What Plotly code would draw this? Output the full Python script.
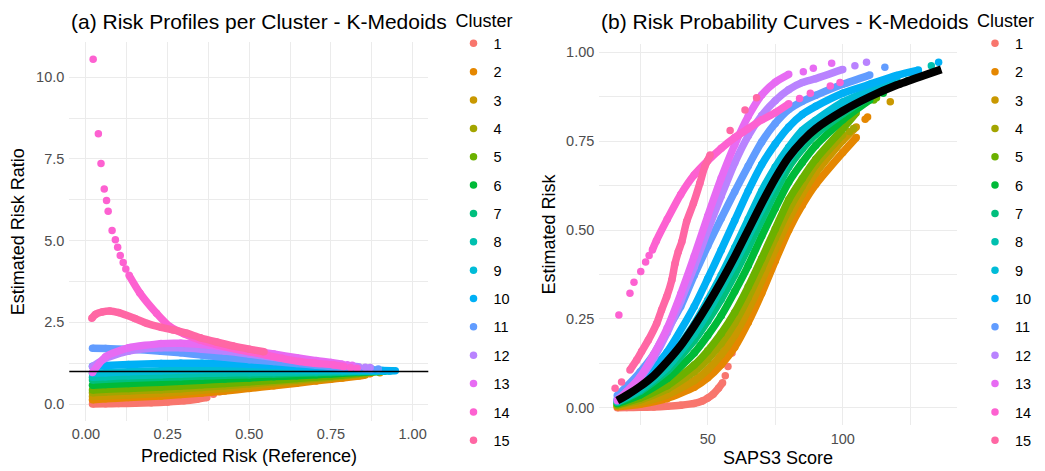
import plotly.graph_objects as go

# ggplot-style hue palette for the 15 clusters
colors = ["#F8766D", "#E58700", "#C99800", "#A3A500", "#6BB100", "#00BA38", "#00BF7D",
          "#00C0AF", "#00BCD8", "#00B0F6", "#619CFF", "#B983FF", "#E76BF3", "#FD61D1", "#FF67A4"]
clusters = [str(i) for i in range(1, 16)]

# ---------------- Panel (b): risk vs SAPS3 ----------------
ref_saps = [16.5, 20, 25, 30, 35, 40, 45, 50, 55, 60, 65, 70, 75, 80, 85, 90, 100, 110, 120, 130, 136.5]
ref_risk = [0.02, 0.035, 0.06, 0.09, 0.13, 0.175, 0.23, 0.29, 0.355, 0.425, 0.5, 0.575, 0.645, 0.705,
            0.75, 0.785, 0.835, 0.875, 0.908, 0.935, 0.952]

b_saps = [
    [16.5, 20, 25, 30, 35, 40, 45, 48, 50, 52, 54, 55.5],
    [16.5, 25, 35, 45, 50, 55, 60, 65, 70, 75, 80, 85, 90, 100, 105],
    [16.5, 25, 35, 45, 50, 55, 60, 65, 70, 75, 80, 85, 90, 100, 105],
    [16.5, 25, 35, 45, 50, 55, 60, 65, 70, 75, 80, 85, 90, 100],
    [16.5, 25, 35, 45, 50, 55, 60, 65, 70, 75, 80, 85, 90, 100, 105],
    [16.5, 25, 35, 45, 50, 55, 60, 65, 70, 75, 80, 85, 90, 100, 110],
    [16.5, 25, 35, 45, 50, 55, 60, 65, 70, 75, 80, 85, 90, 100, 110, 118],
    [16.5, 25, 35, 45, 50, 55, 60, 65, 70, 75, 80, 85, 90, 100, 110, 120],
    [16.5, 25, 35, 45, 50, 55, 60, 65, 70, 75, 80, 85, 90, 100, 110, 120],
    [16.5, 25, 35, 45, 50, 55, 60, 65, 70, 75, 80, 85, 90, 100, 110, 120, 128],
    [16.5, 20, 25, 30, 35, 40, 45, 50, 55, 60, 65, 70, 75, 80, 85, 90, 100, 110],
    [16.5, 20, 25, 30, 35, 40, 45, 50, 55, 60, 65, 70, 75, 80, 85, 90, 100],
    [16.5, 20, 25, 30, 35, 40, 45, 50, 55, 60, 65, 70, 75, 80],
    [29.5, 31, 35, 40, 45, 50, 55, 60, 65, 70, 75, 80],
    [21.2, 23.7, 25.5, 28, 31.1, 32.9, 34.8, 36.7, 37.9, 39.1, 40.4, 42.2, 44.7, 47.1, 48.9, 50.9],
]
b_risk = [
    [0.0, 0.0005, 0.001, 0.002, 0.004, 0.007, 0.012, 0.019, 0.027, 0.038, 0.055, 0.07],
    [0.0026, 0.0096, 0.026, 0.0575, 0.084, 0.121, 0.17, 0.24, 0.322, 0.413, 0.5, 0.57, 0.628, 0.718, 0.76],
    [0.0046, 0.015, 0.036, 0.076, 0.107, 0.149, 0.204, 0.275, 0.357, 0.445, 0.529, 0.6, 0.66, 0.752, 0.79],
    [0.007, 0.022, 0.052, 0.101, 0.136, 0.181, 0.238, 0.31, 0.391, 0.477, 0.557, 0.623, 0.683, 0.768],
    [0.0086, 0.027, 0.062, 0.12, 0.16, 0.209, 0.268, 0.34, 0.42, 0.503, 0.585, 0.645, 0.699, 0.785, 0.83],
    [0.0116, 0.036, 0.082, 0.154, 0.203, 0.259, 0.327, 0.4, 0.483, 0.561, 0.635, 0.69, 0.738, 0.81, 0.866],
    [0.0148, 0.046, 0.103, 0.189, 0.244, 0.305, 0.374, 0.45, 0.529, 0.606, 0.677, 0.728, 0.769, 0.827, 0.875, 0.905],
    [0.0164, 0.05, 0.113, 0.207, 0.267, 0.334, 0.404, 0.48, 0.558, 0.632, 0.698, 0.746, 0.785, 0.838, 0.88, 0.915],
    [0.0188, 0.058, 0.129, 0.235, 0.302, 0.373, 0.45, 0.53, 0.61, 0.677, 0.733, 0.78, 0.809, 0.86, 0.893, 0.926],
    [0.023, 0.071, 0.157, 0.285, 0.363, 0.444, 0.527, 0.61, 0.684, 0.742, 0.79, 0.825, 0.848, 0.885, 0.91, 0.935, 0.95],
    [0.034, 0.06, 0.101, 0.15, 0.218, 0.285, 0.373, 0.455, 0.533, 0.608, 0.68, 0.748, 0.8, 0.839, 0.862, 0.879, 0.91, 0.936],
    [0.023, 0.045, 0.084, 0.14, 0.211, 0.3, 0.396, 0.499, 0.596, 0.689, 0.765, 0.822, 0.864, 0.895, 0.915, 0.926, 0.952],
    [0.0194, 0.045, 0.087, 0.15, 0.224, 0.32, 0.426, 0.539, 0.646, 0.74, 0.82, 0.88, 0.916, 0.938],
    [0.444, 0.47, 0.53, 0.6, 0.655, 0.695, 0.73, 0.76, 0.785, 0.81, 0.83, 0.855],
    [0.106, 0.134, 0.158, 0.19, 0.237, 0.275, 0.312, 0.359, 0.406, 0.439, 0.467, 0.524, 0.575, 0.632, 0.678, 0.711],
]
# isolated patients at the sparse ends of each cluster
b_pt_saps = [
    [56.5, 57.5, 59, 61], [108.3, 109.2], [117.6], [102.5, 104], [111.5, 112.5], [115], [124],
    [126, 132.8], [128], [135.5], [115.6], [104.5, 108.8], [85.4, 89.1, 95.9],
    [17.1, 21.2, 22.7, 25.2, 27, 28.3, 84, 88, 95.4, 99], [15.7, 18.1, 58.3, 63.8, 68.1],
]
b_pt_risk = [
    [0.09, 0.116, 0.154, 0.21], [0.812, 0.818], [0.861], [0.777, 0.786], [0.866, 0.872], [0.885], [0.92],
    [0.94, 0.962], [0.945], [0.972], [0.958], [0.962, 0.972], [0.945, 0.955, 0.969],
    [0.261, 0.322, 0.353, 0.383, 0.41, 0.428, 0.87, 0.885, 0.905, 0.915], [0.055, 0.072, 0.78, 0.838, 0.872],
]

# ---------------- Panel (a): risk ratio vs reference risk ----------------
a_ref = [
    [0.02, 0.06, 0.1, 0.15, 0.2, 0.25, 0.3, 0.34, 0.37],
    [0.02, 0.06, 0.13, 0.23, 0.29, 0.355, 0.425, 0.5, 0.575, 0.645, 0.705, 0.75, 0.785, 0.835, 0.855],
    [0.02, 0.06, 0.13, 0.23, 0.29, 0.355, 0.425, 0.5, 0.575, 0.645, 0.705, 0.75, 0.785, 0.835, 0.857],
    [0.02, 0.06, 0.13, 0.23, 0.29, 0.355, 0.425, 0.5, 0.575, 0.645, 0.705, 0.75, 0.785, 0.835],
    [0.02, 0.06, 0.13, 0.23, 0.29, 0.355, 0.425, 0.5, 0.575, 0.645, 0.705, 0.75, 0.785, 0.835, 0.857],
    [0.02, 0.06, 0.13, 0.23, 0.29, 0.355, 0.425, 0.5, 0.575, 0.645, 0.705, 0.75, 0.785, 0.835, 0.875],
    [0.02, 0.06, 0.13, 0.23, 0.29, 0.355, 0.425, 0.5, 0.575, 0.645, 0.705, 0.75, 0.785, 0.835, 0.875, 0.9],
    [0.02, 0.06, 0.13, 0.23, 0.29, 0.355, 0.425, 0.5, 0.575, 0.645, 0.705, 0.75, 0.785, 0.835, 0.875, 0.908],
    [0.02, 0.06, 0.13, 0.23, 0.29, 0.355, 0.425, 0.5, 0.575, 0.645, 0.705, 0.75, 0.785, 0.835, 0.875, 0.908],
    [0.02, 0.06, 0.13, 0.23, 0.29, 0.355, 0.425, 0.5, 0.575, 0.645, 0.705, 0.75, 0.785, 0.835, 0.875, 0.908, 0.935],
    [0.02, 0.06, 0.13, 0.23, 0.29, 0.355, 0.425, 0.5, 0.575, 0.645, 0.705, 0.75, 0.785, 0.835, 0.875],
    [0.02, 0.06, 0.13, 0.23, 0.29, 0.355, 0.425, 0.5, 0.575, 0.645, 0.705, 0.75, 0.785, 0.835],
    [0.02, 0.06, 0.13, 0.23, 0.29, 0.355, 0.425, 0.5, 0.575, 0.645, 0.705, 0.75, 0.785],
    [0.132, 0.165, 0.216, 0.257, 0.3, 0.349, 0.4, 0.451, 0.5, 0.553, 0.6, 0.655, 0.7, 0.757, 0.79],
    [0.018, 0.03, 0.05, 0.073, 0.1, 0.15, 0.186, 0.23, 0.267, 0.308, 0.35, 0.4, 0.45, 0.5, 0.545],
]
a_ratio = [
    [0.0, 0.01, 0.015, 0.025, 0.04, 0.065, 0.1, 0.15, 0.2],
    [0.13, 0.16, 0.2, 0.25, 0.29, 0.34, 0.4, 0.48, 0.56, 0.64, 0.71, 0.76, 0.8, 0.86, 0.89],
    [0.23, 0.25, 0.28, 0.33, 0.37, 0.42, 0.48, 0.55, 0.62, 0.69, 0.75, 0.8, 0.84, 0.9, 0.92],
    [0.35, 0.37, 0.4, 0.44, 0.47, 0.51, 0.56, 0.62, 0.68, 0.74, 0.79, 0.83, 0.87, 0.92],
    [0.43, 0.45, 0.48, 0.52, 0.55, 0.59, 0.63, 0.68, 0.73, 0.78, 0.83, 0.86, 0.89, 0.94, 0.97],
    [0.58, 0.6, 0.63, 0.67, 0.7, 0.73, 0.77, 0.8, 0.84, 0.87, 0.9, 0.92, 0.94, 0.97, 0.99],
    [0.74, 0.76, 0.79, 0.82, 0.84, 0.86, 0.88, 0.9, 0.92, 0.94, 0.96, 0.97, 0.98, 0.99, 1.0, 1.0],
    [0.82, 0.84, 0.87, 0.9, 0.92, 0.94, 0.95, 0.96, 0.97, 0.98, 0.99, 0.995, 1.0, 1.003, 1.006, 1.008],
    [0.94, 0.96, 0.99, 1.02, 1.04, 1.05, 1.06, 1.06, 1.06, 1.05, 1.04, 1.04, 1.03, 1.03, 1.02, 1.02],
    [1.16, 1.18, 1.21, 1.24, 1.25, 1.25, 1.24, 1.22, 1.19, 1.15, 1.12, 1.1, 1.08, 1.06, 1.04, 1.03, 1.02],
    [1.71, 1.7, 1.68, 1.62, 1.57, 1.5, 1.43, 1.36, 1.3, 1.24, 1.19, 1.15, 1.12, 1.09, 1.07],
    [1.15, 1.4, 1.62, 1.72, 1.72, 1.68, 1.62, 1.53, 1.43, 1.34, 1.27, 1.22, 1.18, 1.14],
    [0.97, 1.45, 1.72, 1.85, 1.86, 1.82, 1.74, 1.64, 1.53, 1.42, 1.33, 1.27, 1.22],
    [3.94, 3.4, 2.78, 2.37, 2.15, 1.96, 1.82, 1.7, 1.6, 1.5, 1.4, 1.3, 1.25, 1.2, 1.15],
    [2.63, 2.75, 2.82, 2.85, 2.8, 2.62, 2.47, 2.35, 2.27, 2.17, 2.03, 1.9, 1.78, 1.68, 1.6],
]
a_pt_ref = [
    [0.39, 0.41, 0.44], [0.868, 0.871], [0.9], [0.847, 0.855], [0.88, 0.884], [0.892], [0.915],
    [0.926, 0.94], [0.93], [0.947], [0.895], [0.855, 0.87], [0.8, 0.815],
    [0.022, 0.038, 0.046, 0.056, 0.063, 0.068, 0.080, 0.090, 0.097, 0.105, 0.114, 0.122, 0.81, 0.83], [],
]
a_pt_ratio = [
    [0.3, 0.38, 0.48], [0.928, 0.936], [0.957], [0.917, 0.92], [0.985, 0.986], [0.992], [1.005],
    [1.015, 1.02], [1.016], [1.02], [1.07], [1.125, 1.118], [1.2, 1.19],
    [10.55, 8.27, 7.36, 6.58, 6.23, 5.9, 5.31, 5.03, 4.8, 4.55, 4.33, 4.13, 1.12, 1.1], [],
]

W, H = 1045, 471
MS = 7.5   # point diameter
LW = 7.5   # band width for densely packed points
FONT = "Liberation Sans, Arial, Helvetica, sans-serif"

fig = go.Figure()


def add_cluster(k, xs, ys, px, py, xa, ya, legend):
    col = colors[k]
    if xs:
        fig.add_trace(go.Scatter(x=xs, y=ys, mode="lines+markers", xaxis=xa, yaxis=ya,
                                 line=dict(color=col, width=LW, shape="spline", smoothing=0.6),
                                 marker=dict(color=col, size=MS), showlegend=False,
                                 legendgroup=legend + clusters[k], hoverinfo="skip"))
    if px:
        fig.add_trace(go.Scatter(x=px, y=py, mode="markers", xaxis=xa, yaxis=ya,
                                 marker=dict(color=col, size=MS), showlegend=False,
                                 legendgroup=legend + clusters[k], hoverinfo="skip"))
    # legend key
    fig.add_trace(go.Scatter(x=[None], y=[None], mode="markers", xaxis=xa, yaxis=ya,
                             marker=dict(color=col, size=MS), name=clusters[k],
                             legend=legend, legendgroup=legend + clusters[k]))


for k in range(15):
    add_cluster(k, a_ref[k], a_ratio[k], a_pt_ref[k], a_pt_ratio[k], "x", "y", "legend")
for k in range(15):
    add_cluster(k, b_saps[k], b_risk[k], b_pt_saps[k], b_pt_risk[k], "x2", "y2", "legend2")

# reference curve
fig.add_trace(go.Scatter(x=ref_saps, y=ref_risk, mode="lines", xaxis="x2", yaxis="y2",
                         line=dict(color="black", width=8, shape="spline", smoothing=0.6),
                         showlegend=False, hoverinfo="skip"))

# risk ratio = 1
fig.add_shape(type="line", xref="x domain", yref="y", x0=0, x1=1, y0=1, y1=1,
              line=dict(color="black", width=1.5))

grid = "#EBEBEB"
tickfont = dict(family=FONT, size=14.5, color="#4D4D4D")


def axis(domain, rng, dtick, fmt, anchor, standoff):
    return dict(domain=domain, range=rng, dtick=dtick, tick0=0, tickformat=fmt, anchor=anchor,
                showgrid=True, gridcolor=grid, gridwidth=1.3, zeroline=False, showline=False,
                ticks="", ticklabelstandoff=standoff, tickfont=tickfont,
                minor=dict(dtick=dtick / 2, tick0=0, showgrid=True, gridcolor=grid, gridwidth=0.7))


fig.update_layout(
    width=W, height=H, margin=dict(l=0, r=0, t=0, b=0),
    plot_bgcolor="white", paper_bgcolor="white",
    font=dict(family=FONT, color="black"),
    xaxis=axis([69.3 / W, 428.3 / W], [-0.051, 1.048], 0.25, ".2f", "y", 2),
    yaxis=axis([1 - 421.4 / H, 1 - 42 / H], [-0.53, 11.08], 2.5, ".1f", "x", 4),
    xaxis2=axis([599.3 / W, 956.7 / W], [9.85, 142.2], 50, "d", "y2", 3),
    yaxis2=axis([1 - 425.1 / H, 1 - 43.8 / H], [-0.049, 1.024], 0.25, ".2f", "x2", 4),
    legend=dict(x=453.5 / W, y=1 - 4 / H, xanchor="left", yanchor="top", tracegroupgap=6.5,
                title=dict(text="Cluster", font=dict(size=18)), font=dict(size=14.5),
                bgcolor="rgba(0,0,0,0)", itemsizing="trace"),
    legend2=dict(x=975 / W, y=1 - 4 / H, xanchor="left", yanchor="top", tracegroupgap=6.5,
                 title=dict(text="Cluster", font=dict(size=18)), font=dict(size=14.5),
                 bgcolor="rgba(0,0,0,0)", itemsizing="trace"),
)

ann = [
    dict(text="(a) Risk Profiles per Cluster - K-Medoids", x=69 / W, y=1 - 22 / H,
         xanchor="left", yanchor="middle", font=dict(size=21)),
    dict(text="(b) Risk Probability Curves - K-Medoids", x=599 / W, y=1 - 22 / H,
         xanchor="left", yanchor="middle", font=dict(size=21)),
    dict(text="Predicted Risk (Reference)", x=249 / W, y=1 - 456 / H,
         xanchor="center", yanchor="middle", font=dict(size=18)),
    dict(text="SAPS3 Score", x=778 / W, y=1 - 458 / H,
         xanchor="center", yanchor="middle", font=dict(size=18)),
    dict(text="Estimated Risk Ratio", x=17.5 / W, y=1 - 231.7 / H, textangle=-90,
         xanchor="center", yanchor="middle", font=dict(size=18)),
    dict(text="Estimated Risk", x=548 / W, y=1 - 234.5 / H, textangle=-90,
         xanchor="center", yanchor="middle", font=dict(size=18)),
]
for a in ann:
    a.update(xref="paper", yref="paper", showarrow=False)
    a["font"]["family"] = FONT
    a["font"]["color"] = "black"
fig.update_layout(annotations=ann)

fig.write_html("out.html")
